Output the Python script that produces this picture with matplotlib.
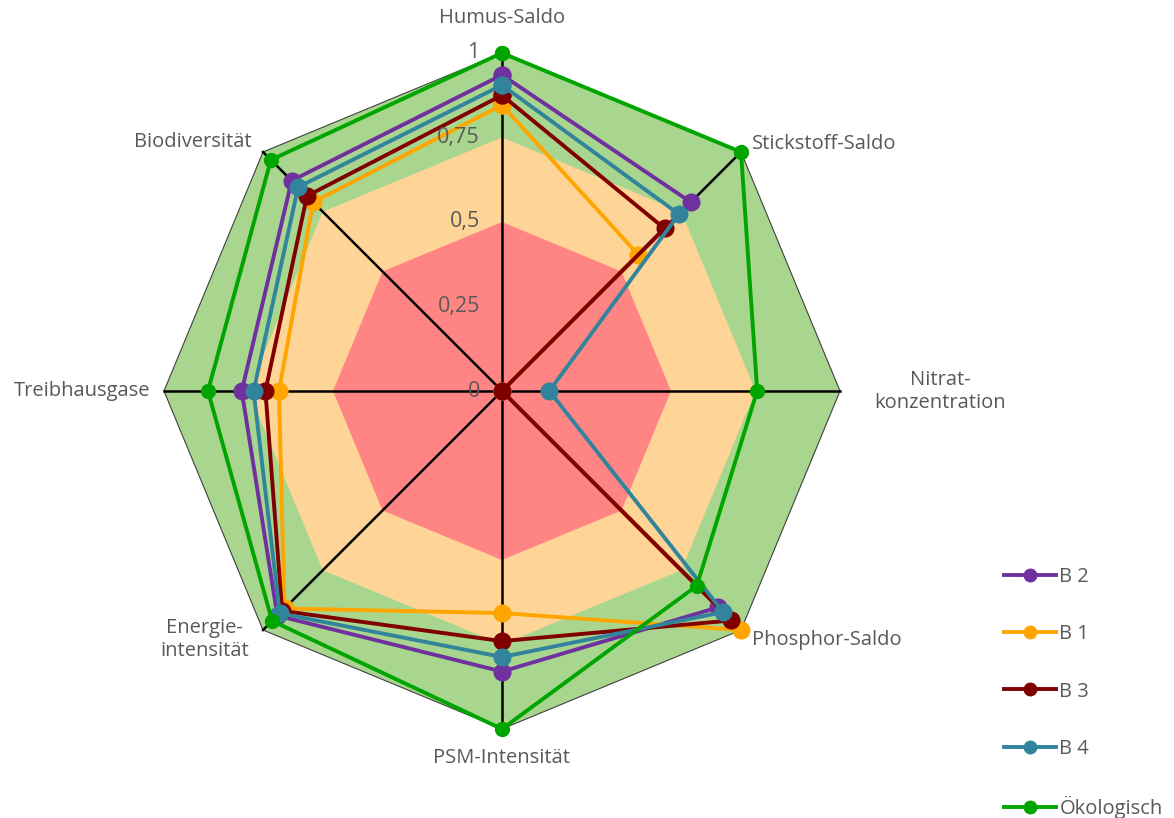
import numpy as np
import matplotlib
matplotlib.use("Agg")
import matplotlib.pyplot as plt

# ── data ─────────────────────────────────────────────────────────────────────
categories = ["Humus-Saldo", "Stickstoff-Saldo", "Nitrat-\nkonzentration",
              "Phosphor-Saldo", "PSM-Intensität", "Energie-\nintensität",
              "Treibhausgase", "Biodiversität"]
b2   = [0.935, 0.79, 0.0, 0.905, 0.83, 0.94, 0.77, 0.88]
b1   = [0.846, 0.57, 0.0, 1.00, 0.657, 0.91, 0.66, 0.79]
b3   = [0.875, 0.68, 0.0, 0.96, 0.74, 0.92, 0.70, 0.816]
b4   = [0.905, 0.74, 0.14, 0.925, 0.787, 0.93, 0.735, 0.853]
oeko = [1.0, 1.0, 0.755, 0.815, 1.0, 0.962, 0.87, 0.967]
series_names = ["B 2", "B 1", "B 3", "B 4", "Ökologisch"]
tick_vals   = [0, 0.25, 0.5, 0.75, 1]
tick_labels = ["0", "0,25", "0,5", "0,75", "1"]
bands       = [1.0, 0.75, 0.5]

# ── style ────────────────────────────────────────────────────────────────────
TXT = "#595959"
BAND_COLORS = ["#a9d68e", "#ffd497", "#ff8585"]
SER_COLORS = ["#7030a0", "#ffa500", "#800000", "#31849b", "#00a500"]
plt.rcParams["font.family"] = ["Open Sans", "DejaVu Sans"]

fig = plt.figure(figsize=(11.74, 8.18), dpi=100)
cx, cy, R = 502 / 1174, 1 - 391 / 818, 338
ax = fig.add_axes([cx - R / 1174, cy - R / 818, 2 * R / 1174, 2 * R / 818],
                  projection="polar")
ax.set_theta_zero_location("N")
ax.set_theta_direction(-1)
ax.set_ylim(0, 1)
ax.axis("off")

n = len(categories)
theta = np.arange(n) * 2 * np.pi / n
tc = np.append(theta, theta[0])

# background bands
for lvl, col in zip(bands, BAND_COLORS):
    ax.fill(tc, [lvl] * (n + 1), color=col, lw=0, zorder=1, clip_on=False)
ax.plot(tc, [1.0] * (n + 1), color="#404040", lw=0.8, zorder=2, clip_on=False)

# spokes
for t in theta:
    ax.plot([t, t], [0, 1], color="black", lw=1.8, zorder=2, clip_on=False)

# series
all_vals = [b2, b1, b3, b4, oeko]
for i, (name, vals, col) in enumerate(zip(series_names, all_vals, SER_COLORS)):
    ms = 10 if name == "Ökologisch" else 12
    ax.plot(tc, list(vals) + [vals[0]], color=col, lw=2.8, marker="o",
            ms=ms, label=name, zorder=3 + i, clip_on=False)

# value ticks along the top spoke
for v, lab in zip(tick_vals, tick_labels):
    ax.annotate(lab, xy=(0, v), xytext=(-16, 0), textcoords="offset points",
                ha="right", va="center", color=TXT, fontsize=15.5, zorder=20)

# category labels: (dx, dy in points, ha)
label_pos = [(0, 25, "center"), (8, 6, "left"), (72, 0, "center"),
             (8, -7, "left"), (0, -21, "center"), (-42, -7, "center"),
             (-10, 0, "right"), (-8, 7, "right")]
for t, lab, (dx, dy, ha) in zip(theta, categories, label_pos):
    ax.annotate(lab, xy=(t, 1.0), xytext=(dx, dy), textcoords="offset points",
                ha=ha, va="center", multialignment="center",
                color=TXT, fontsize=14.5, zorder=20)

leg = fig.legend(loc="upper left", bbox_to_anchor=(1004 / 1174, 1 - 567 / 818),
                 frameon=False, fontsize=14.5, labelcolor=TXT,
                 handlelength=2.6, handletextpad=0.15, labelspacing=1.85,
                 borderaxespad=0, borderpad=0)
for h in leg.legend_handles:
    h.set_markersize(9)

fig.savefig("out.png", dpi=100)
